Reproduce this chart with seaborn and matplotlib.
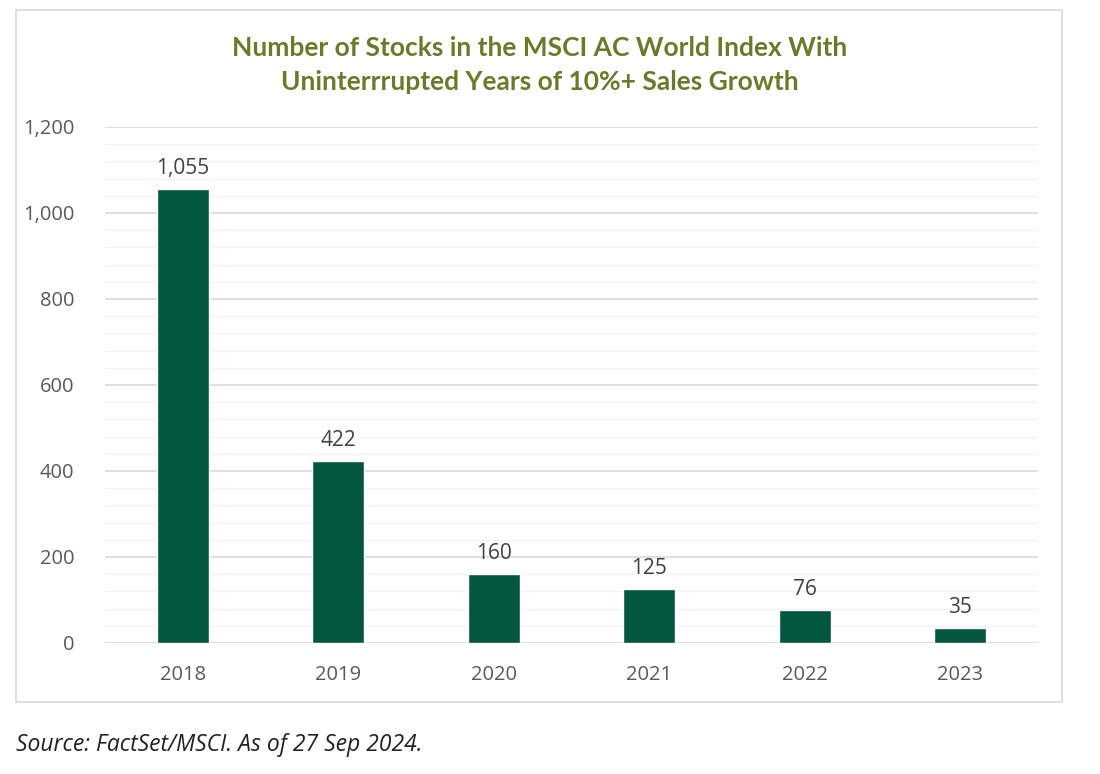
import matplotlib
matplotlib.use("Agg")
import matplotlib.pyplot as plt
import seaborn as sns
import pandas as pd
from matplotlib.patches import Rectangle
from matplotlib.ticker import MultipleLocator, FuncFormatter

years = ["2018", "2019", "2020", "2021", "2022", "2023"]
stocks = [1055, 422, 160, 125, 76, 35]

title = "Number of Stocks in the MSCI AC World Index With\nUninterrrupted Years of 10%+ Sales Growth"
source = "Source: FactSet/MSCI. As of 27 Sep 2024."

sns.set_theme(style="white")
plt.rcParams['font.family'] = ['Open Sans', 'DejaVu Sans']

df = pd.DataFrame({"year": years, "stocks": stocks})

fig = plt.figure(figsize=(11, 7.74), dpi=100)
ax = fig.add_axes([0.0955, 0.1693, 0.848, 0.6667])

# light box around the chart area
fig.patches.append(Rectangle((16 / 1100, 1 - 702 / 774), (1062 - 16) / 1100, (702 - 10) / 774,
                             transform=fig.transFigure, fill=False, edgecolor="#D9D9D9", linewidth=1.2))

sns.barplot(data=df, x="year", y="stocks", color="#04573F", width=0.335, saturation=1, ax=ax, zorder=3)

ax.set_ylim(0, 1200)
ax.yaxis.set_major_locator(MultipleLocator(200))
ax.yaxis.set_minor_locator(MultipleLocator(40))
ax.yaxis.set_major_formatter(FuncFormatter(lambda v, p: f"{int(v):,}"))
ax.grid(which="major", axis="y", color="#D9D9D9", linewidth=1.2, zorder=0)
ax.grid(which="minor", axis="y", color="#F2F2F2", linewidth=1.0, zorder=0)
ax.set_axisbelow(True)
for s in ax.spines.values():
    s.set_visible(False)
ax.tick_params(axis="both", length=0, labelsize=14.5, colors="#595959")
ax.tick_params(axis="y", pad=22)
ax.tick_params(axis="x", pad=16)
ax.set_xlabel("")
ax.set_ylabel("")

for i, v in enumerate(stocks):
    ax.text(i, v + 24, f"{v:,}", ha="center", va="bottom", fontsize=15, color="#404040")

fig.text(0.491, 1 - 65 / 774, title, ha="center", va="center", fontsize=19,
         fontweight="bold", color="#6B7A2A", linespacing=1.45, family=['Lato', 'DejaVu Sans'])
fig.text(16 / 1100, 1 - 745 / 774, source, ha="left", va="center", fontsize=16.5,
         style="italic", color="#222222")

fig.savefig("out.png", dpi=100)
